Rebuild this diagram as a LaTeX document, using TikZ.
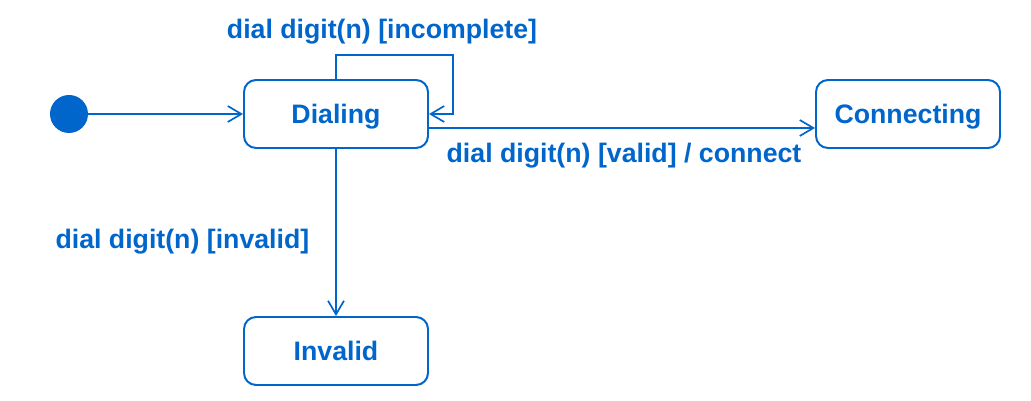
\documentclass[tikz,border=0pt]{standalone}
\usepackage{fontspec}
\setmainfont{Liberation Sans}
\usetikzlibrary{arrows.meta,positioning}
\definecolor{umlblue}{HTML}{0066CC}

\begin{document}
\begin{tikzpicture}[
  state/.style={rectangle,draw=umlblue,line width=1.4pt,rounded corners=0.3cm,
    minimum width=4.6cm,minimum height=1.7cm,text=umlblue,text depth=0pt,
    font=\fontsize{19}{22}\selectfont\bfseries},
  trig/.style={text=umlblue,font=\fontsize{19}{22}\selectfont\bfseries,inner sep=1pt},
  arr/.style={-{Straight Barb[length=3.4mm,width=4mm,line width=1.2pt]},umlblue,line width=1.2pt}]

\useasboundingbox (0,0) rectangle (25.775,-10.025);

% ---- states ------------------------------------------------------------
\node[circle,fill=umlblue,minimum size=0.95cm,inner sep=0pt] (init) at (1.725,-2.85) {};
\node[state] (dial) at (8.4,-2.85)  {Dialing};
\node[state] (conn) at (22.7,-2.85) {Connecting};
\node[state] (inv)  at (8.4,-8.775) {Invalid};

% ---- triggers ----------------------------------------------------------
\node[trig] (lincomp) at (9.55,-0.78)  {dial digit(n) [incomplete]};
\node[trig] (lvalid)  at (15.6,-3.88)  {dial digit(n) [valid] / connect};
\node[trig] (linval)  at (4.56,-6.03) {dial digit(n) [invalid]};

% ---- transitions -------------------------------------------------------
\draw[arr] (init) -- (dial);
\draw[arr] (dial.north) |- (11.325,-1.375) |- (dial.east);
\draw[arr] ([yshift=-0.35cm]dial.east) -- ([yshift=-0.35cm]conn.west);
\draw[arr] (dial) -- (inv);
\end{tikzpicture}
\end{document}
